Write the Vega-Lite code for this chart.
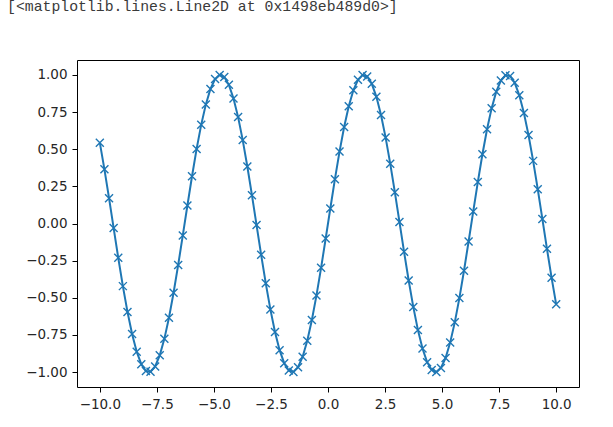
{
  "$schema": "https://vega.github.io/schema/vega-lite/v6.json",
  "width": 502,
  "height": 327,
  "autosize": {"type": "none"},
  "padding": {"left": 77, "top": 60, "right": 34, "bottom": 40},
  "background": "white",
  "title": {
    "text": "[<matplotlib.lines.Line2D at 0x1498eb489d0>]",
    "anchor": "start",
    "frame": "group",
    "orient": "top",
    "dx": -70,
    "offset": 34,
    "baseline": "alphabetic",
    "font": "Liberation Mono",
    "fontSize": 14.8,
    "fontWeight": "normal",
    "color": "#3a3a3a"
  },
  "config": {
    "view": {"stroke": "#000000", "strokeWidth": 1},
    "axis": {
      "grid": false,
      "domain": false,
      "tickColor": "#000000",
      "tickSize": 5,
      "tickWidth": 1,
      "labelFont": "DejaVu Sans",
      "labelFontSize": 13.5,
      "labelColor": "#262626",
      "labelPadding": 5,
      "title": null
    }
  },
  "data": {
    "values": [
      {"x": -10.0, "y": 0.54402},
      {"x": -9.79798, "y": 0.36460},
      {"x": -9.59596, "y": 0.17035},
      {"x": -9.39394, "y": -0.03083},
      {"x": -9.19192, "y": -0.23076},
      {"x": -8.98990, "y": -0.42130},
      {"x": -8.78788, "y": -0.59471},
      {"x": -8.58586, "y": -0.74392},
      {"x": -8.38384, "y": -0.86288},
      {"x": -8.18182, "y": -0.94674},
      {"x": -7.97980, "y": -0.99210},
      {"x": -7.77778, "y": -0.99710},
      {"x": -7.57576, "y": -0.96155},
      {"x": -7.37374, "y": -0.88688},
      {"x": -7.17172, "y": -0.77615},
      {"x": -6.96970, "y": -0.63384},
      {"x": -6.76768, "y": -0.46576},
      {"x": -6.56566, "y": -0.27873},
      {"x": -6.36364, "y": -0.08036},
      {"x": -6.16162, "y": 0.12127},
      {"x": -5.95960, "y": 0.31797},
      {"x": -5.75758, "y": 0.50174},
      {"x": -5.55556, "y": 0.66510},
      {"x": -5.35354, "y": 0.80141},
      {"x": -5.15152, "y": 0.90512},
      {"x": -4.94949, "y": 0.97202},
      {"x": -4.74747, "y": 0.99938},
      {"x": -4.54545, "y": 0.98610},
      {"x": -4.34343, "y": 0.93270},
      {"x": -4.14141, "y": 0.84137},
      {"x": -3.93939, "y": 0.71582},
      {"x": -3.73737, "y": 0.56116},
      {"x": -3.53535, "y": 0.38366},
      {"x": -3.33333, "y": 0.19057},
      {"x": -3.13131, "y": -0.01028},
      {"x": -2.92929, "y": -0.21071},
      {"x": -2.72727, "y": -0.40257},
      {"x": -2.52525, "y": -0.57805},
      {"x": -2.32323, "y": -0.73003},
      {"x": -2.12121, "y": -0.85231},
      {"x": -1.91919, "y": -0.93992},
      {"x": -1.71717, "y": -0.98931},
      {"x": -1.51515, "y": -0.99845},
      {"x": -1.31313, "y": -0.96699},
      {"x": -1.11111, "y": -0.89619},
      {"x": -0.90909, "y": -0.78894},
      {"x": -0.70707, "y": -0.64961},
      {"x": -0.50505, "y": -0.48385},
      {"x": -0.30303, "y": -0.29841},
      {"x": -0.10101, "y": -0.10084},
      {"x": 0.10101, "y": 0.10084},
      {"x": 0.30303, "y": 0.29841},
      {"x": 0.50505, "y": 0.48385},
      {"x": 0.70707, "y": 0.64961},
      {"x": 0.90909, "y": 0.78894},
      {"x": 1.11111, "y": 0.89619},
      {"x": 1.31313, "y": 0.96699},
      {"x": 1.51515, "y": 0.99845},
      {"x": 1.71717, "y": 0.98931},
      {"x": 1.91919, "y": 0.93992},
      {"x": 2.12121, "y": 0.85231},
      {"x": 2.32323, "y": 0.73003},
      {"x": 2.52525, "y": 0.57805},
      {"x": 2.72727, "y": 0.40257},
      {"x": 2.92929, "y": 0.21071},
      {"x": 3.13131, "y": 0.01028},
      {"x": 3.33333, "y": -0.19057},
      {"x": 3.53535, "y": -0.38366},
      {"x": 3.73737, "y": -0.56116},
      {"x": 3.93939, "y": -0.71582},
      {"x": 4.14141, "y": -0.84137},
      {"x": 4.34343, "y": -0.93270},
      {"x": 4.54545, "y": -0.98610},
      {"x": 4.74747, "y": -0.99938},
      {"x": 4.94949, "y": -0.97202},
      {"x": 5.15152, "y": -0.90512},
      {"x": 5.35354, "y": -0.80141},
      {"x": 5.55556, "y": -0.66510},
      {"x": 5.75758, "y": -0.50174},
      {"x": 5.95960, "y": -0.31797},
      {"x": 6.16162, "y": -0.12127},
      {"x": 6.36364, "y": 0.08036},
      {"x": 6.56566, "y": 0.27873},
      {"x": 6.76768, "y": 0.46576},
      {"x": 6.96970, "y": 0.63384},
      {"x": 7.17172, "y": 0.77615},
      {"x": 7.37374, "y": 0.88688},
      {"x": 7.57576, "y": 0.96155},
      {"x": 7.77778, "y": 0.99710},
      {"x": 7.97980, "y": 0.99210},
      {"x": 8.18182, "y": 0.94674},
      {"x": 8.38384, "y": 0.86288},
      {"x": 8.58586, "y": 0.74392},
      {"x": 8.78788, "y": 0.59471},
      {"x": 8.98990, "y": 0.42130},
      {"x": 9.19192, "y": 0.23076},
      {"x": 9.39394, "y": 0.03083},
      {"x": 9.59596, "y": -0.17035},
      {"x": 9.79798, "y": -0.36460},
      {"x": 10.0, "y": -0.54402}
    ]
  },
  "encoding": {
    "x": {
      "field": "x",
      "type": "quantitative",
      "scale": {"domain": [-11, 11], "nice": false, "zero": false},
      "axis": {"values": [-10, -7.5, -5, -2.5, 0, 2.5, 5, 7.5, 10], "format": ".1f"}
    },
    "y": {
      "field": "y",
      "type": "quantitative",
      "scale": {"domain": [-1.1, 1.1], "nice": false, "zero": false},
      "axis": {"values": [-1, -0.75, -0.5, -0.25, 0, 0.25, 0.5, 0.75, 1], "format": ".2f"}
    }
  },
  "layer": [
    {
      "mark": {"type": "line", "color": "#1f77b4", "strokeWidth": 2}
    },
    {
      "mark": {
        "type": "point",
        "shape": "M-1,-1L1,1M-1,1L1,-1",
        "filled": false,
        "stroke": "#1f77b4",
        "strokeWidth": 1.4,
        "size": 64,
        "opacity": 1
      }
    }
  ]
}
